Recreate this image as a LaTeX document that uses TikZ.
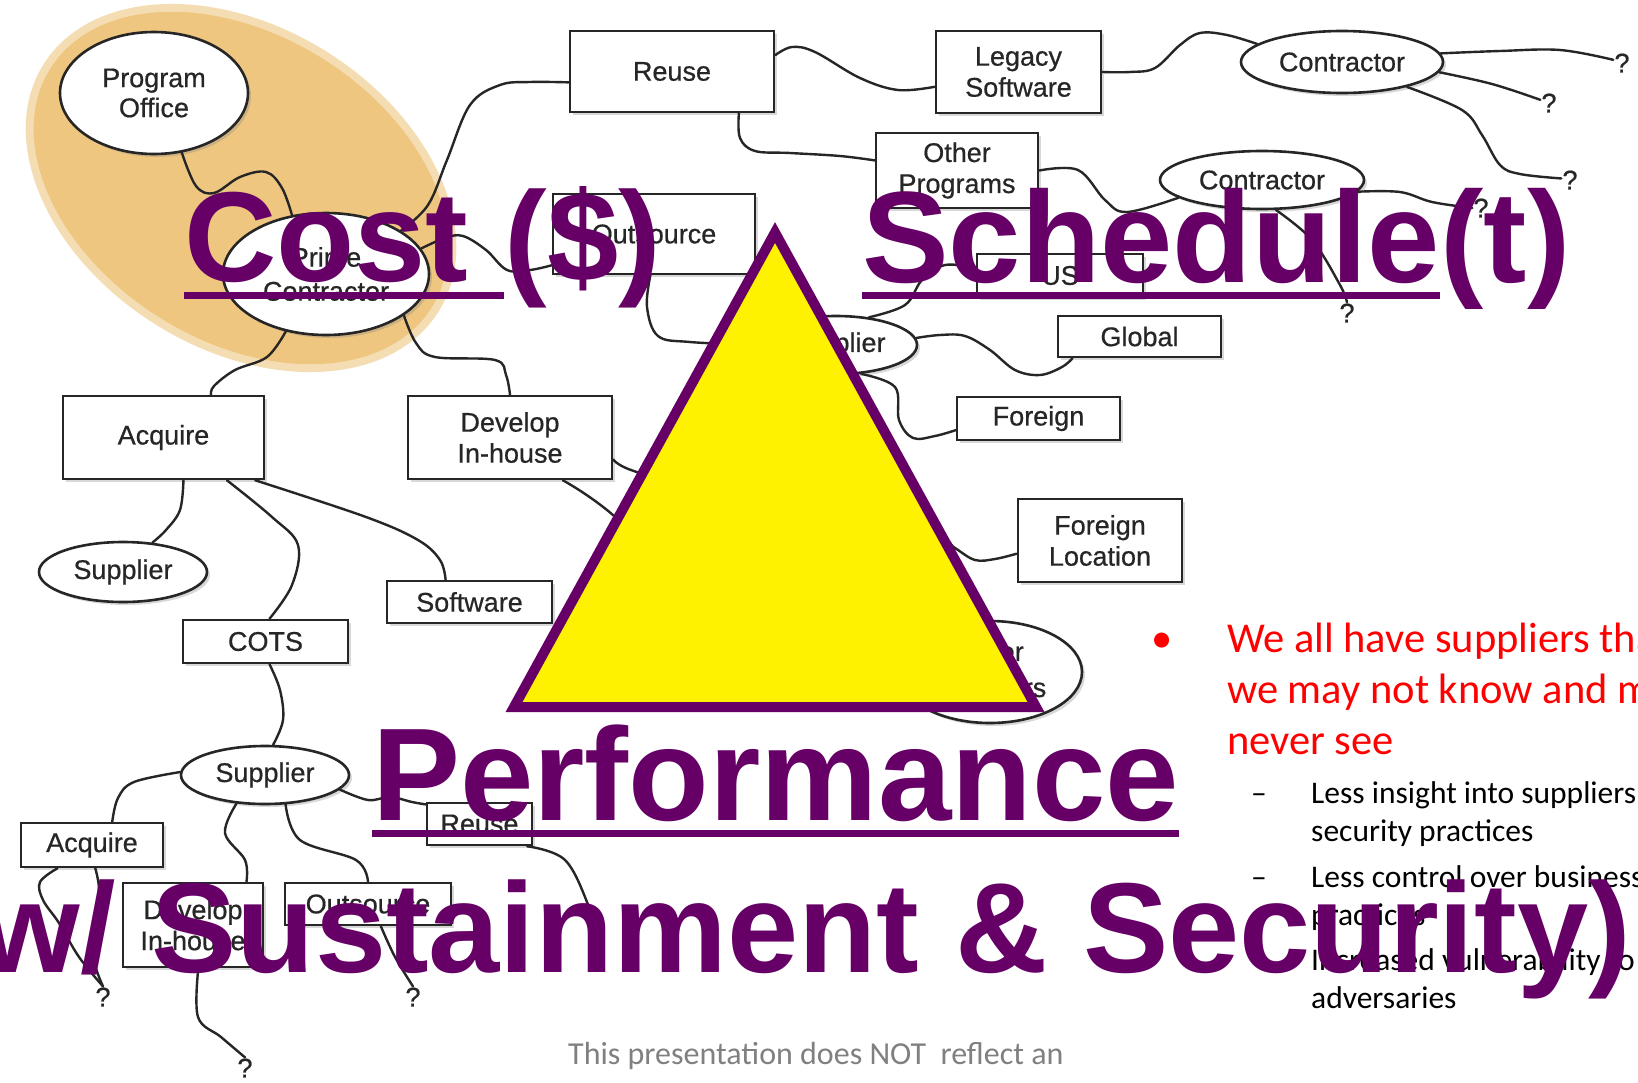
\documentclass[tikz,border=0pt]{standalone}
\usepackage{fontspec}
\setmainfont{Liberation Sans}
\newfontfamily\calib{Carlito}
\newfontfamily\dfont{Liberation Sans}[FakeBold=0.6]
\usetikzlibrary{shapes.geometric,shadows}
\definecolor{purp}{RGB}{102,0,102}
\definecolor{orng}{RGB}{239,198,128}
\definecolor{ink}{RGB}{38,38,38}
\definecolor{redt}{RGB}{255,0,0}
\definecolor{foot}{RGB}{128,128,128}
\tikzset{
 dbox/.style={draw=ink, line width=2.6pt, fill=white, inner sep=0pt, align=center, text=ink,
   font=\dfont\fontsize{27}{31}\selectfont,
   drop shadow={shadow xshift=3pt,shadow yshift=-3pt,opacity=.3}},
 rbox/.style={dbox, rectangle},
 ebox/.style={dbox, ellipse},
 conn/.style={draw=ink, line width=2.4pt, line cap=round},
 qmark/.style={text=ink, font=\dfont\fontsize{27}{27}\selectfont, inner sep=1pt},
 big/.style={text=purp, font=\fontsize{128}{128}\selectfont\bfseries, anchor=base west, inner sep=0pt},
 bigb/.style={big, font=\fontsize{130}{130}\selectfont\bfseries},
 bigc/.style={big, font=\fontsize{132}{132}\selectfont\bfseries},
 ul/.style={draw=purp, line width=6.5pt},
 redl/.style={text=redt, font=\calib\fontsize{42.5}{50}\selectfont, anchor=base west, inner sep=0pt},
 subl/.style={text=black, font=\calib\fontsize{31.5}{38}\selectfont, anchor=base west, inner sep=0pt},
 footl/.style={text=foot, font=\calib\fontsize{32}{37}\selectfont, anchor=base west, inner sep=0pt},
}
\begin{document}
\begin{tikzpicture}[x=1pt,y=-1pt]
\useasboundingbox (0,0) rectangle (1638,1082);
\fill[white] (0,0) rectangle (1638,1082);
\clip (0,0) rectangle (1638,1082);
% highlight
\fill[orng!60, rotate around={-32:(241,188)}] (241,188) ellipse [x radius=233, y radius=161];
\fill[orng, rotate around={-32:(241,188)}] (241,188) ellipse [x radius=225, y radius=153];
% ellipse nodes
\node[ebox, minimum width=188pt, minimum height=122pt, font=\dfont\fontsize{27}{30}\selectfont] (po) at (154,93) {Program\\Office};
\node[ebox, minimum width=206pt, minimum height=122pt, font=\dfont\fontsize{27}{34}\selectfont] (prime) at (326,274) {Prime\\Contractor};
\node[ebox, minimum width=202pt, minimum height=62pt] (ctop) at (1342,62) {Contractor};
\node[ebox, minimum width=204pt, minimum height=58pt] (cmid) at (1262,180) {Contractor};
\node[ebox, minimum width=162pt, minimum height=58pt] (supm) at (836,345) {Supplier};
\node[ebox, minimum width=168pt, minimum height=60pt] (supl) at (123,572) {Supplier};
\node[ebox, minimum width=168pt, minimum height=58pt] (suplow) at (265,775) {Supplier};
\node[ebox, minimum width=184pt, minimum height=102pt, font=\dfont\fontsize{27}{36}\selectfont] (othersup) at (990,672) {Other\\Suppliers};
% box nodes
\node[rbox, minimum width=204pt, minimum height=81pt] (reuse) at (672,71.5) {Reuse};
\node[rbox, minimum width=165pt, minimum height=82pt] (legacy) at (1018.5,72) {Legacy\\Software};
\node[rbox, minimum width=162pt, minimum height=75pt] (otherp) at (957,170.5) {Other\\Programs};
\node[rbox, minimum width=202pt, minimum height=80pt] (outsource) at (654,234) {Outsource};
\node[rbox, minimum width=166pt, minimum height=43pt] (us) at (1060,275.5) {US};
\node[rbox, minimum width=163pt, minimum height=41pt] (global) at (1139.5,336.5) {Global};
\node[rbox, minimum width=163pt, minimum height=43pt] (foreign) at (1038.5,418.5) {Foreign};
\node[rbox, minimum width=164pt, minimum height=83pt] (floc) at (1100,540.5) {Foreign\\Location};
\node[rbox, minimum width=201pt, minimum height=83pt] (acquire) at (163.5,437.5) {Acquire};
\node[rbox, minimum width=204pt, minimum height=83pt] (develop) at (510,437.5) {Develop\\In-house};
\node[rbox, minimum width=165pt, minimum height=42pt] (software) at (469.5,602) {Software};
\node[rbox, minimum width=165pt, minimum height=43pt] (cots) at (265.5,641.5) {COTS};
\node[rbox, minimum width=142pt, minimum height=44pt] (acqs) at (92,845) {Acquire};
\node[rbox, minimum width=140pt, minimum height=84pt] (devlow) at (193,925) {Develop\\In-house};
\node[rbox, minimum width=166pt, minimum height=42pt] (outslow) at (368,904) {Outsource};
\node[rbox, minimum width=105pt, minimum height=42pt] (reuselow) at (479.5,824) {Reuse};
% question marks
\node[qmark] (q1) at (1622,63) {?};
\node[qmark] (q2) at (1549,103) {?};
\node[qmark] (q3) at (1570,180) {?};
\node[qmark] (q4) at (1481,208) {?};
\node[qmark] (q5) at (1347,313) {?};
\node[qmark] (qa) at (103,997) {?};
\node[qmark] (qd) at (245,1068) {?};
\node[qmark] (qo) at (413,997) {?};
\coordinate (e1) at (602,950);
% connectors
\draw[conn] plot[smooth,tension=.6] coordinates {(po.-65) (196,186) (214,193) (240,177) (266,172) (282,188) (prime.120)};
\draw[conn] plot[smooth,tension=.6] coordinates {(prime.30) (428,205) (447,160) (470,105) (500,85) (530,82) (reuse.186)};
\draw[conn] plot[smooth,tension=.6] coordinates {(prime.15) (445,238) (463,236) (486,250) (507,270) (530,270) (outsource.197)};
\draw[conn] plot[smooth,tension=.6] coordinates {(outsource.265) (647,307) (658,336) (690,342) (supm.180)};
\draw[conn] plot[smooth,tension=.6] coordinates {(prime.235) (267,357) (235,370) (214,386) (acquire.42)};
\draw[conn] plot[smooth,tension=.6] coordinates {(prime.-28) (416,343) (435,357) (495,360) (506,375) (develop.north)};
\draw[conn] plot[smooth,tension=.6] coordinates {(reuse.9) (792,47) (815,52) (860,78) (898,90) (legacy.190)};
\draw[conn] plot[smooth,tension=.6] coordinates {(reuse.-32) (740,138) (755,151) (790,153) (840,156) (otherp.173)};
\draw[conn] plot[smooth,tension=.6] coordinates {(legacy.east) (1130,72) (1155,68) (1180,45) (1200,33) (1227,35) (ctop.168)};
\draw[conn] plot[smooth,tension=.6] coordinates {(ctop.5) (1500,51) (1560,50) (q1.160)};
\draw[conn] plot[smooth,tension=.6] coordinates {(ctop.-6) (1492,84) (q2.160)};
\draw[conn] plot[smooth,tension=.6] coordinates {(ctop.-21) (1462,110) (1482,135) (1500,165) (1520,174) (q3.170)};
\draw[conn] plot[smooth,tension=.6] coordinates {(otherp.east) (1078,170) (1105,200) (1127,212) (cmid.192)};
\draw[conn] plot[smooth,tension=.6] coordinates {(cmid.-7) (1400,192) (1432,202) (q4.west)};
\draw[conn] plot[smooth,tension=.6] coordinates {(cmid.-65) (1312,240) (1340,285) (q5.north)};
\draw[conn] plot[smooth,tension=.6] coordinates {(supm.40) (905,305) (922,280) (945,265) (us.175)};
\draw[conn] plot[smooth,tension=.6] coordinates {(supm.5) (940,335) (965,336) (990,350) (1015,370) (1040,375) (1062,367) (global.198)};
\draw[conn] plot[smooth,tension=.6] coordinates {(supm.-49) (895,387) (899,420) (913,438) (935,436) (foreign.188)};
\draw[conn] plot[smooth,tension=.6] coordinates {(develop.-12) (631,470) (700,490) (850,520) (935,535) (955,548) (975,560) (995,559) (floc.189)};
\draw[conn] plot[smooth,tension=.6] coordinates {(develop.-39) (607,510) (700,590) (850,660) (othersup.180)};
\draw[conn] plot[smooth,tension=.6] coordinates {(acquire.-65) (180,510) (166,530) (supl.45)};
\draw[conn] plot[smooth,tension=.6] coordinates {(acquire.-34) (272,517) (298,545) (292,585) (cots.80)};
\draw[conn] plot[smooth,tension=.6] coordinates {(acquire.-25) (366,517) (418,540) (440,560) (software.137)};
\draw[conn] plot[smooth,tension=.6] coordinates {(cots.-80) (280,690) (283,720) (suplow.75)};
\draw[conn] plot[smooth,tension=.6] coordinates {(suplow.178) (134,782) (118,798) (acqs.49)};
\draw[conn] plot[smooth,tension=.6] coordinates {(suplow.-135) (225,833) (245,860) (devlow.39)};
\draw[conn] plot[smooth,tension=.6] coordinates {(suplow.-55) (300,840) (356,860) (outslow.north)};
\draw[conn] plot[smooth,tension=.6] coordinates {(suplow.-11) (368,800) (390,797) (412,802) (reuselow.160)};
\draw[conn] plot[smooth,tension=.6] coordinates {(reuselow.-25) (565,860) (589,907) (e1)};
\draw[conn] plot[smooth,tension=.6] coordinates {(acqs.-146) (40,882) (43,900) (59,923) (79,957) (qa.north)};
\draw[conn] plot[smooth,tension=.6] coordinates {(acqs.-82) (99,890) (95,923) (93,957) (qa.north)};
\draw[conn] plot[smooth,tension=.6] coordinates {(devlow.-83) (198,1017) (221,1037) (qd.north)};
\draw[conn] plot[smooth,tension=.6] coordinates {(outslow.-60) (395,957) (qo.north)};
% triangle
\draw[purp, line width=10pt, fill=yellow] (775,232.5) -- (1036,707) -- (514,707) -- cycle;
% bullet text
\node[redl, anchor=base] (bul) at (1162,652) {•};
\node[redl] (r1) at (1227,652) {We all have suppliers that};
\node[redl] (r2) at (1227,703) {we may not know and may};
\node[redl] (r3) at (1227,754) {never see};
\node[subl] (d1) at (1251,803) {–};
\node[subl] (s1) at (1311,803) {Less insight into suppliers’};
\node[subl] (s2) at (1311,841) {security practices};
\node[subl] (d2) at (1251,887) {–};
\node[subl] (s3) at (1311,887) {Less control over business};
\node[subl] (s4) at (1311,925) {practices};
\node[subl] (d3) at (1251,970) {–};
\node[subl] (s5) at (1311,970) {Increased vulnerability to};
\node[subl] (s6) at (1311,1008) {adversaries};
\node[footl] (foot) at (568,1064) {This presentation does NOT\ \ reflect an};
% big text
\node[big] (cost) at (184,281) {Cost\hspace*{0.278em}};
\node[big] (costb) at (cost.base east) {(\$)};
\draw[ul] ([yshift=-14.5pt]cost.base west) -- ([yshift=-14.5pt]cost.base east);
\node[bigb] (sched) at (862,282) {Schedule};
\node[bigb] (schedb) at (sched.base east) {(t)};
\draw[ul] ([yshift=-13.5pt]sched.base west) -- ([yshift=-13.5pt]sched.base east);
\node[bigc] (perf) at (372,820) {Performance};
\draw[ul] ([yshift=-13.5pt]perf.base west) -- ([yshift=-13.5pt]perf.base east);
\node[big] (sust) at (-62,972) {(w/ Sustainment \& Security)};
\end{tikzpicture}
\end{document}
